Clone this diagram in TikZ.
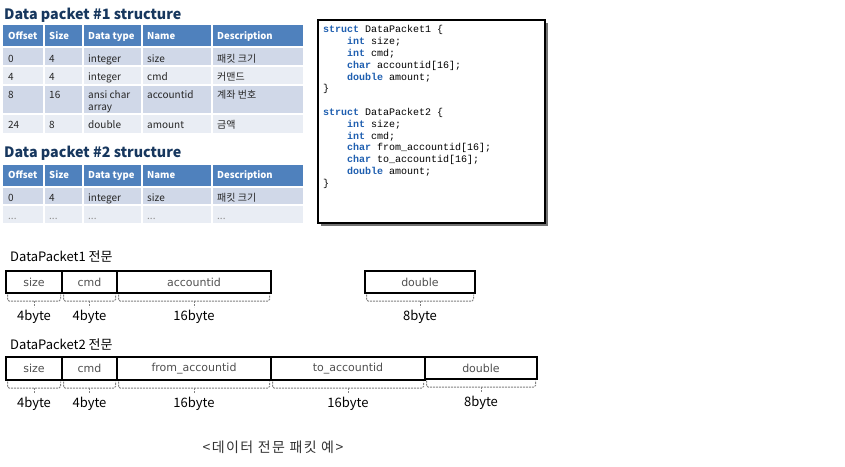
\documentclass[tikz,border=0pt]{standalone}
\usepackage{fontspec}
\setmainfont{Noto Sans CJK KR}
\setmonofont{Liberation Mono}
\newfontfamily\fieldfont{DejaVu Sans}
\usepackage{tikz}
\usetikzlibrary{positioning}
\definecolor{hdrblue}{RGB}{79,129,189}
\definecolor{rowdark}{RGB}{208,216,232}
\definecolor{rowlight}{RGB}{233,237,244}
\definecolor{titleblue}{RGB}{23,55,94}
\definecolor{kwblue}{RGB}{31,95,176}
\definecolor{fieldgray}{RGB}{80,80,80}
\definecolor{bracegray}{RGB}{130,130,130}
\newcommand\kw[1]{\textcolor{kwblue}{\textbf{#1}}}
\tikzstyle{ttl}=[anchor=base west,inner sep=0,font=\fontsize{14.3}{16}\selectfont\bfseries,text=titleblue]
\tikzstyle{hd}=[anchor=base west,inner sep=0,font=\fontsize{9.5}{12}\selectfont\bfseries,text=white]
\tikzstyle{cell}=[anchor=base west,inner sep=0,align=left,font=\fontsize{10}{12.4}\selectfont,text=black!85]
\tikzstyle{sep}=[white,line width=1.2]
\tikzstyle{field}=[draw,line width=1.2,outer sep=0,inner sep=0,font=\fieldfont\fontsize{11}{13}\selectfont,text=fieldgray]
\tikzstyle{bytes}=[inner sep=0,font=\fontsize{13}{15}\selectfont]
\tikzstyle{brace}=[bracegray,line width=1,dash pattern=on 2pt off 1pt,rounded corners=1.5pt]
\tikzstyle{code}=[anchor=north west,inner sep=0,align=left,font=\ttfamily\fontsize{10}{11.8}\selectfont]
% dashed brace under a field, with its size below
\newcommand\bytebrace[3]{%
  \draw[brace] ([xshift=1.5,yshift=-1.5]#1.south west) -- ([xshift=1.5,yshift=-8]#1.south west)
     -- ([xshift=-1.5,yshift=-8]#1.south east) -- ([xshift=-1.5,yshift=-1.5]#1.south east);
  \draw[brace] ([yshift=-8]#1.south) -- ([yshift=-14]#1.south);
  \node[bytes] (#2) at ([yshift=-24]#1.south) {#3};}

\begin{document}
\begin{tikzpicture}[x=1pt,y=-1pt]
	\useasboundingbox[fill=white] (0,0) rectangle (845,466);

	% table 1
	\node[ttl] (title1) at (4,19.5) {Data packet \#1 structure};
	\fill[hdrblue] (3,25) rectangle (303,47);
	\fill[rowdark] (3,47) rectangle (303,66);
	\fill[rowlight] (3,66) rectangle (303,85);
	\fill[rowdark] (3,85) rectangle (303,114);
	\fill[rowlight] (3,114) rectangle (303,133);
	\foreach \x in {44,83,142,212} \draw[sep] (\x,25) -- (\x,133);
	\foreach \y in {47,66,85,114} \draw[sep] (3,\y) -- (303,\y);
	\foreach \t/\x [count=\i] in {Offset/8,Size/49,Data type/88,Name/147,Description/217}
		\node[hd] (ta-h\i) at (\x,39) {\t};
	\foreach \t/\x [count=\i] in {0/8,4/49,integer/88,size/147,패킷 크기/217}
		\node[cell] (ta-a\i) at (\x,62) {\t};
	\foreach \t/\x [count=\i] in {4/8,4/49,integer/88,cmd/147,커맨드/217}
		\node[cell] (ta-b\i) at (\x,80.5) {\t};
	\foreach \t/\x [count=\i] in {8/8,16/49,accountid/147,계좌 번호/217}
		\node[cell] (ta-c\i) at (\x,98) {\t};
	\node[cell] (ta-c5) at (88,110.4) {ansi char\\array};
	\foreach \t/\x [count=\i] in {24/8,8/49,double/88,amount/147,금액/217}
		\node[cell] (ta-d\i) at (\x,128) {\t};

	% table 2
	\node[ttl] (title2) at (4,157.5) {Data packet \#2 structure};
	\fill[hdrblue] (3,165) rectangle (303,187);
	\fill[rowdark] (3,187) rectangle (303,205);
	\fill[rowlight] (3,205) rectangle (303,223);
	\foreach \x in {44,83,142,212} \draw[sep] (\x,165) -- (\x,223);
	\foreach \y in {187,205} \draw[sep] (3,\y) -- (303,\y);
	\foreach \t/\x [count=\i] in {Offset/8,Size/49,Data type/88,Name/147,Description/217}
		\node[hd] (tb-h\i) at (\x,178) {\t};
	\foreach \t/\x [count=\i] in {0/8,4/49,integer/88,size/147,패킷 크기/217}
		\node[cell] (tb-a\i) at (\x,201.5) {\t};
	\foreach \x [count=\i] in {8,49,88,147,217}
		\node[cell,text=black!45] (tb-b\i) at (\x,219) {...};

	% struct source
	\fill[black!55] (321,23) rectangle (548,226);
	\node[draw,fill=white,line width=1.8,outer sep=0,anchor=north west,minimum width=227,minimum height=203] (codebox) at (318,20) {};
	\node[code] (src) at ([xshift=5,yshift=-5.5]codebox.north west) {%
		\kw{struct} DataPacket1 \{\\
		\hspace*{24pt}\kw{int} size;\\
		\hspace*{24pt}\kw{int} cmd;\\
		\hspace*{24pt}\kw{char} accountid[16];\\
		\hspace*{24pt}\kw{double} amount;\\
		\}\\[11.8pt]
		\kw{struct} DataPacket2 \{\\
		\hspace*{24pt}\kw{int} size;\\
		\hspace*{24pt}\kw{int} cmd;\\
		\hspace*{24pt}\kw{char} from\_accountid[16];\\
		\hspace*{24pt}\kw{char} to\_accountid[16];\\
		\hspace*{24pt}\kw{double} amount;\\
		\}};

	% DataPacket1 layout
	\node[bytes,anchor=west] (lbl1) at (10,256.5) {DataPacket1 전문};
	\node[field,minimum width=56,minimum height=22,anchor=north west] (p1size) at (6,271) {size};
	\node[field,minimum width=55,minimum height=22,right=0 of p1size] (p1cmd) {cmd};
	\node[field,minimum width=154,minimum height=22,right=0 of p1cmd] (p1acc) {accountid};
	\node[field,minimum width=110,minimum height=22,anchor=north west] (p1dbl) at (365,271) {double};
	\bytebrace{p1size}{b1size}{4byte}
	\bytebrace{p1cmd}{b1cmd}{4byte}
	\bytebrace{p1acc}{b1acc}{16byte}
	\bytebrace{p1dbl}{b1dbl}{8byte}

	% DataPacket2 layout
	\node[bytes,anchor=west] (lbl2) at (10,344.5) {DataPacket2 전문};
	\node[field,minimum width=56,minimum height=23,anchor=north west] (p2size) at (6,357) {size};
	\node[field,minimum width=55,minimum height=23,right=0 of p2size] (p2cmd) {cmd};
	\node[field,minimum width=154,minimum height=23,right=0 of p2cmd] (p2from) {from\_accountid};
	\node[field,minimum width=154,minimum height=23,right=0 of p2from] (p2to) {to\_accountid};
	\node[field,minimum width=112,minimum height=22,anchor=north west] (p2dbl) at (p2to.north east) {double};
	\bytebrace{p2size}{b2size}{4byte}
	\bytebrace{p2cmd}{b2cmd}{4byte}
	\bytebrace{p2from}{b2from}{16byte}
	\bytebrace{p2to}{b2to}{16byte}
	\bytebrace{p2dbl}{b2dbl}{8byte}

	\node[font=\fontsize{14}{16}\selectfont\addfontfeature{LetterSpace=10},text=black!80] (caption) at (273,447.5) {<데이터 전문 패킷 예>};
\end{tikzpicture}
\end{document}
